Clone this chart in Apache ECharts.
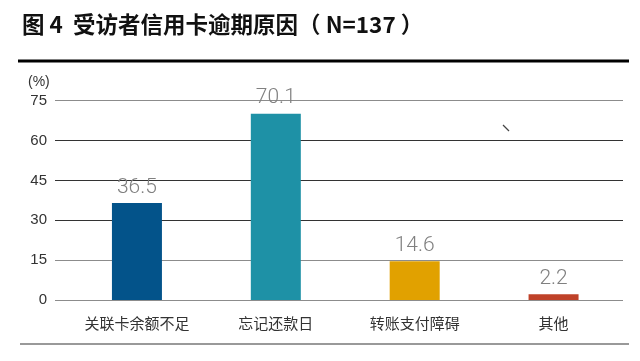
<!DOCTYPE html>
<html><head><meta charset="utf-8">
<script src="https://cdn.jsdelivr.net/npm/echarts@6/dist/echarts.min.js"></script>
<style>html,body{margin:0;padding:0;background:#fff}#c{width:640px;height:361px}</style>
</head><body><div id="c"></div>
<script>
const titleText = '图 4  受访者信用卡逾期原因（ N=137 ）';
const categories = ['关联卡余额不足', '忘记还款日', '转账支付障碍', '其他'];
const values = [36.5, 70.1, 14.6, 2.2];
const barColors = ['#03538a', '#1e91a6', '#e1a100', '#bf4229'];
const yTicks = [0, 15, 30, 45, 60, 75];
const unitLabel = '(%)';

const chart = echarts.init(document.getElementById('c'), null, {renderer: 'canvas'});
const cjk = '"Noto Sans CJK SC", "Liberation Sans", sans-serif';
chart.setOption({
  animation: false,
  backgroundColor: '#fff',
  title: {
    text: titleText, left: 17, top: 8,
    textStyle: {fontFamily: cjk, fontSize: 22.5, fontWeight: 'bold', color: '#111'}
  },
  graphic: [
    {type: 'line', shape: {x1: 18, y1: 61, x2: 629, y2: 61}, style: {stroke: '#000', lineWidth: 3}},
    {type: 'line', shape: {x1: 20, y1: 344, x2: 629, y2: 344}, style: {stroke: '#999', lineWidth: 2}},
    {type: 'text', left: 28, top: 75, style: {text: unitLabel, font: '14px "Liberation Sans", sans-serif', fill: '#333'}},
    {type: 'line', shape: {x1: 503, y1: 125, x2: 509, y2: 131}, style: {stroke: '#444', lineWidth: 1.2}}
  ],
  grid: [
    {left: 67.5, right: 17, top: 100.7, bottom: 61},
    {left: 55, right: 17, top: 100.7, bottom: 61}
  ],
  xAxis: [
    {type: 'category', gridIndex: 0, data: categories,
     axisLine: {show: false}, axisTick: {show: false},
     axisLabel: {margin: 16, fontFamily: cjk, fontSize: 15, color: '#333'}},
    {type: 'value', gridIndex: 1, show: false, min: 0, max: 1}
  ],
  yAxis: [
    {type: 'value', gridIndex: 0, min: 0, max: 75, interval: 15, show: false},
    {type: 'value', gridIndex: 1, min: yTicks[0], max: yTicks[yTicks.length - 1], interval: 15,
     axisLine: {show: false}, axisTick: {show: false},
     axisLabel: {margin: 8, fontFamily: '"Liberation Sans", sans-serif', fontSize: 15, color: '#333'},
     splitLine: {lineStyle: {color: ['#8c8c8c', '#8c8c8c', '#333', '#333', '#333', '#8c8c8c'], width: 1.2}}}
  ],
  series: [{
    type: 'bar', xAxisIndex: 0, yAxisIndex: 0, barWidth: 50,
    data: values.map((v, i) => ({value: v, itemStyle: {color: barColors[i]}})),
    label: {show: true, position: 'top', distance: 5, formatter: p => p.value.toFixed(1),
      fontFamily: 'Roboto, "Liberation Sans", sans-serif', fontWeight: 300, fontSize: 21, color: '#808080'}
  }]
});
</script></body></html>
